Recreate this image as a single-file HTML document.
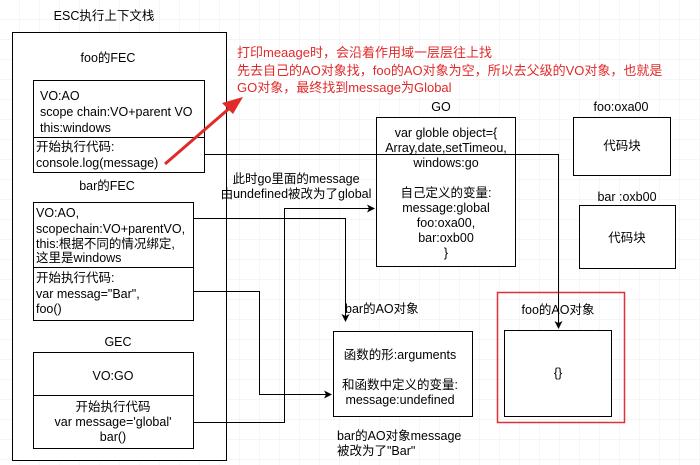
<!DOCTYPE html>
<html><head><meta charset="utf-8"><style>
html,body{margin:0;padding:0;background:#fff;}
svg{display:block;font-family:"Liberation Sans","Noto Sans CJK SC",sans-serif;}
</style></head><body>
<svg width="700" height="465" viewBox="0 0 700 465" xmlns="http://www.w3.org/2000/svg">
<defs>
<pattern id="g" width="20" height="20" patternUnits="userSpaceOnUse">
<path d="M20 0V20M0 20H20" fill="none" stroke="#ececec" stroke-width="1"/>
</pattern>
<marker id="a" markerWidth="8" markerHeight="8" refX="7" refY="4" orient="auto" markerUnits="userSpaceOnUse">
<path d="M0,0 L8,4 L0,8 L2,4 z" fill="#000"/>
</marker>
</defs>
<rect width="700" height="465" fill="url(#g)"/>
<g fill="#fff" stroke="#000" stroke-width="1">
<rect x="12.5" y="32.5" width="214" height="428"/>
<rect x="33.5" y="80.5" width="171" height="92"/>
<line x1="33" y1="137.5" x2="204" y2="137.5"/>
<rect x="33.5" y="202.5" width="160" height="118"/>
<line x1="33" y1="267.5" x2="193" y2="267.5"/>
<rect x="33.5" y="352.5" width="160" height="96"/>
<line x1="33" y1="395.5" x2="193" y2="395.5"/>
<rect x="376.5" y="117.5" width="139" height="149"/>
<rect x="573.5" y="117.5" width="97" height="58"/>
<rect x="579.5" y="205.5" width="96" height="63"/>
<rect x="333.5" y="331.5" width="139" height="85"/>
<rect x="504.5" y="330.5" width="107" height="86"/>
</g>
<rect x="497.5" y="292.5" width="127" height="130" fill="none" stroke="#e0303a" stroke-width="1.5"/>
<g fill="none" stroke="#000" stroke-width="1">
<path d="M204 154.5H558.5V328" marker-end="url(#a)"/>
<path d="M193 218.5H345.5V321" marker-end="url(#a)"/>
<path d="M193 422.5H284.5V208.5H374" marker-end="url(#a)"/>
<path d="M193 291.5H259.5V394.5H331" marker-end="url(#a)"/>
</g>
<line x1="165" y1="164" x2="232" y2="106" stroke="#e02a2a" stroke-width="3"/>
<path d="M243 97 L222 103 L233 114 z" fill="#e02a2a"/>
<g font-size="12.5" fill="#000" text-anchor="middle">
<text x="104" y="20">ESC执行上下文栈</text>
<text x="108" y="62">foo的FEC</text>
<text x="107" y="190">bar的FEC</text>
<text x="118" y="346">GEC</text>
<text x="113" y="380">VO:GO</text>
<text x="113" y="411">开始执行代码</text>
<text x="113" y="426">var message='global'</text>
<text x="113" y="441">bar()</text>
<text x="441" y="111">GO</text>
<text x="621" y="111">foo:oxa00</text>
<text x="622" y="150">代码块</text>
<text x="627" y="201">bar :oxb00</text>
<text x="627" y="242">代码块</text>
<text x="446" y="137">var globle object={</text>
<text x="446" y="152">Array,date,setTimeou,</text>
<text x="446" y="167">windows:go</text>
<text x="446" y="197">自己定义的变量:</text>
<text x="446" y="212">message:global</text>
<text x="446" y="227">foo:oxa00,</text>
<text x="446" y="242">bar:oxb00</text>
<text x="446" y="257">}</text>
<text x="296" y="183">此时go里面的message</text>
<text x="296" y="198">由undefined被改为了global</text>
<text x="400" y="359">函数的形:arguments</text>
<text x="400" y="389">和函数中定义的变量:</text>
<text x="400" y="404">message:undefined</text>
<text x="558" y="314">foo的AO对象</text>
<text x="558" y="377">{}</text>
</g>
<g font-size="12.5" fill="#000">
<text x="40" y="100">VO:AO</text>
<text x="40" y="116">scope chain:VO+parent VO</text>
<text x="40" y="132">this:windows</text>
<text x="36" y="151">开始执行代码:</text>
<text x="36" y="167">console.log(message)</text>
<text x="36" y="217">VO:AO,</text>
<text x="36" y="233">scopechain:VO+parentVO,</text>
<text x="36" y="248">this:根据不同的情况绑定,</text>
<text x="36" y="262">这里是windows</text>
<text x="36" y="282">开始执行代码:</text>
<text x="36" y="298">var messag="Bar",</text>
<text x="36" y="313">foo()</text>
<text x="345" y="313">bar的AO对象</text>
<text x="337" y="440">bar的AO对象message</text>
<text x="337" y="455">被改为了"Bar"</text>
</g>
<g font-size="13" fill="#e02a2a">
<text x="237" y="57">打印meaage时，会沿着作用域一层层往上找</text>
<text x="237" y="75">先去自己的AO对象找，foo的AO对象为空，所以去父级的VO对象，也就是</text>
<text x="237" y="92">GO对象，最终找到message为Global</text>
</g>
</svg>
</body></html>
